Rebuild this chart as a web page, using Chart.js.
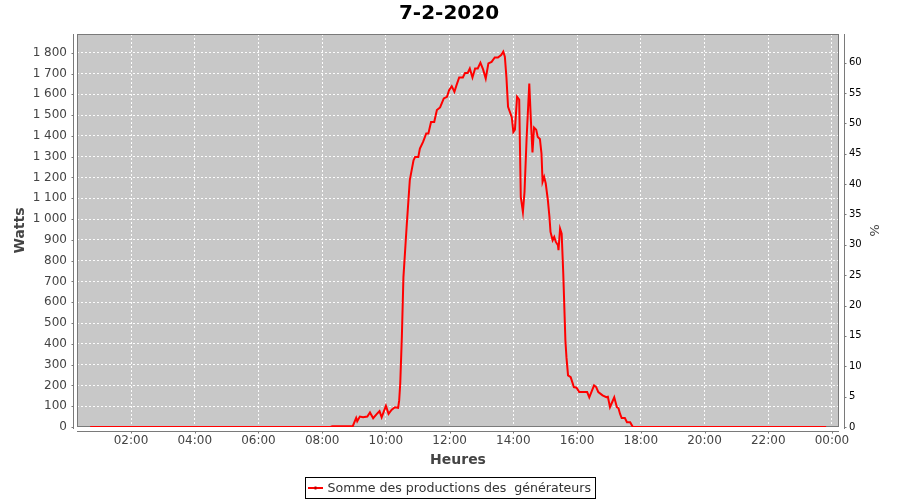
<!DOCTYPE html>
<html>
<head>
<meta charset="utf-8">
<script src="https://cdn.jsdelivr.net/npm/chart.js@4.4.1/dist/chart.umd.min.js"></script>
<style>
    html, body { margin: 0; padding: 0; background: #fff; }
</style>
</head>
<body>
<canvas id="chart" width="900" height="500"></canvas>
<script>
const chartTitle = '7-2-2020';
const seriesLabel = 'Somme des productions des  générateurs';

// time of day (HH:MM) and production in watts
const times = [
    '00:43', '08:16', '08:19', '08:55', '08:57', '09:04', '09:06', '09:11', '09:17', '09:25',
    '09:30', '09:36', '09:43', '09:48', '09:52', '10:00', '10:05', '10:11', '10:17', '10:23',
    '10:25', '10:27', '10:30', '10:33', '10:39', '10:45', '10:52', '10:55', '11:01', '11:04',
    '11:10', '11:16', '11:20', '11:25', '11:31', '11:36', '11:42', '11:49', '11:55', '11:59',
    '12:04', '12:09', '12:13', '12:18', '12:25', '12:29', '12:34', '12:38', '12:43', '12:48',
    '12:53', '12:58', '13:03', '13:08', '13:13', '13:19', '13:25', '13:31', '13:37', '13:41',
    '13:44', '13:47', '13:50', '13:57', '14:00', '14:03', '14:07', '14:11', '14:14', '14:18',
    '14:21', '14:25', '14:30', '14:33', '14:36', '14:39', '14:43', '14:46', '14:50', '14:53',
    '14:55', '14:58', '15:01', '15:05', '15:08', '15:10', '15:14', '15:17', '15:20', '15:24',
    '15:25', '15:28', '15:31', '15:34', '15:36', '15:38', '15:40', '15:43', '15:48', '15:54',
    '15:59', '16:04', '16:12', '16:19', '16:23', '16:32', '16:36', '16:40', '16:48', '16:55',
    '16:58', '17:02', '17:06', '17:10', '17:15', '17:18', '17:21', '17:24', '17:30', '17:34',
    '17:40', '17:45', '23:49'
];
const watts = [
    0, 0, 4, 4, 0, 44, 28, 50, 47, 50,
    70, 42, 63, 76, 47, 102, 63, 83, 95, 92,
    128, 210, 432, 721, 962, 1187, 1283, 1299, 1299, 1339,
    1371, 1412, 1412, 1467, 1467, 1524, 1537, 1580, 1588, 1620,
    1639, 1612, 1644, 1681, 1681, 1703, 1703, 1724, 1681, 1724,
    1724, 1752, 1720, 1676, 1749, 1756, 1777, 1777, 1789, 1805,
    1781, 1680, 1540, 1490, 1419, 1430, 1588, 1575, 1106, 1034,
    1130, 1390, 1652, 1476, 1320, 1440, 1430, 1395, 1385, 1315,
    1179, 1203, 1171, 1091, 1010, 938, 898, 914, 890, 874,
    850, 954, 930, 738, 577, 416, 336, 248, 240, 192,
    189, 168, 168, 168, 143, 200, 192, 168, 152, 143,
    145, 95, 119, 143, 95, 90, 63, 43, 43, 23,
    23, 0, 0
];

const hourTicks = [2, 4, 6, 8, 10, 12, 14, 16, 18, 20, 22, 24];
const hourLabels = ['02:00', '04:00', '06:00', '08:00', '10:00', '12:00', '14:00', '16:00', '18:00', '20:00', '22:00', '00:00'];
const wattTicks = [0, 100, 200, 300, 400, 500, 600, 700, 800, 900, 1000, 1100, 1200, 1300, 1400, 1500, 1600, 1700, 1800];
const pctTicks = [0, 5, 10, 15, 20, 25, 30, 35, 40, 45, 50, 55, 60];

function toHours(t) {
    const parts = t.split(':');
    return parseInt(parts[0]) + parseInt(parts[1]) / 60;
}

function formatWatts(v) {
    if (v < 1000) return String(v);
    return Math.floor(v / 1000) + ' ' + String(v % 1000).padStart(3, '0');
}

const points = times.map((t, i) => ({ x: toHours(t), y: watts[i] }));

const AREA = { left: 77, right: 839, top: 34, bottom: 427 };
const gridLine = { color: 'rgba(255,255,255,0.95)', drawTicks: false, lineWidth: 1 };
const dashedBorder = { display: false, dash: [2, 2] };

// grey plot background, frame and offset axis lines with small tick marks
const plotFrame = {
    id: 'plotFrame',
    beforeDraw(chart) {
        const { ctx, chartArea: a } = chart;
        ctx.save();
        ctx.fillStyle = '#c8c8c8';
        ctx.fillRect(a.left, a.top, a.right - a.left, a.bottom - a.top);
        ctx.restore();
    },
    beforeDatasetsDraw(chart) {
        const { ctx, chartArea: a, scales } = chart;
        ctx.save();
        ctx.strokeStyle = '#7a7a7a';
        ctx.lineWidth = 1;
        ctx.setLineDash([]);
        ctx.strokeRect(a.left + 0.5, a.top + 0.5, a.right - a.left - 1, a.bottom - a.top - 1);

        const lx = a.left - 3.5, rx = a.right + 5.5, by = a.bottom + 4.5;
        ctx.beginPath();
        ctx.moveTo(lx, a.top); ctx.lineTo(lx, a.bottom + 2);
        ctx.moveTo(rx, a.top); ctx.lineTo(rx, a.bottom + 2);
        ctx.moveTo(a.left, by); ctx.lineTo(a.right, by);
        scales.y.ticks.forEach(t => {
            const p = Math.round(scales.y.getPixelForValue(t.value)) + 0.5;
            ctx.moveTo(lx - 2, p); ctx.lineTo(lx, p);
        });
        scales.y1.ticks.forEach(t => {
            const p = Math.round(scales.y1.getPixelForValue(t.value)) + 0.5;
            ctx.moveTo(rx, p); ctx.lineTo(rx + 2, p);
        });
        scales.x.ticks.forEach(t => {
            const p = Math.round(scales.x.getPixelForValue(t.value)) + 0.5;
            ctx.moveTo(p, by); ctx.lineTo(p, by + 2);
        });
        ctx.stroke();
        ctx.restore();
    }
};

// boxed legend under the axis title
const legendBox = {
    id: 'legendBox',
    afterDraw(chart) {
        const ctx = chart.ctx;
        const ds = chart.data.datasets[0];
        ctx.save();
        ctx.font = '12.6px "DejaVu Sans"';
        const tw = ctx.measureText(ds.label).width;
        const w = Math.round(2.5 + 15 + 4.5 + tw + 4.5);
        const x0 = Math.round(chart.width / 2 - w / 2) + 0.5;
        const y0 = chart.height - 22.5;
        const h = 21;
        ctx.strokeStyle = '#000';
        ctx.lineWidth = 1;
        ctx.strokeRect(x0, y0, w, h);

        const cy = y0 + h / 2;
        ctx.strokeStyle = ds.borderColor;
        ctx.lineWidth = 2;
        ctx.beginPath();
        ctx.moveTo(x0 + 2.5, cy);
        ctx.lineTo(x0 + 17.5, cy);
        ctx.stroke();
        ctx.fillStyle = '#b00000';
        ctx.fillRect(x0 + 9, cy - 1.5, 2, 3);

        ctx.fillStyle = '#333';
        ctx.textBaseline = 'middle';
        ctx.textAlign = 'left';
        ctx.fillText(ds.label, x0 + 22, cy + 0.5);
        ctx.restore();
    }
};

Chart.defaults.font.family = '"DejaVu Sans", sans-serif';

const ctx = document.getElementById('chart').getContext('2d');
const chart = new Chart(ctx, {
    type: 'line',
    data: {
        datasets: [{
            label: seriesLabel,
            data: points,
            borderColor: '#ff0000',
            backgroundColor: '#ff0000',
            borderWidth: 2,
            pointRadius: 0,
            tension: 0,
            yAxisID: 'y'
        }]
    },
    options: {
        responsive: false,
        animation: false,
        layout: { padding: { left: 8, right: 10, top: 0, bottom: 26 } },
        plugins: {
            legend: { display: false },
            tooltip: { enabled: false },
            title: {
                display: true,
                text: chartTitle,
                color: '#000',
                font: { size: 20, weight: 'bold' },
                padding: { top: 2, bottom: 8 }
            }
        },
        scales: {
            x: {
                type: 'linear',
                min: 0.3045,
                max: 24.221,
                grid: gridLine,
                border: dashedBorder,
                afterBuildTicks: scale => { scale.ticks = hourTicks.map(v => ({ value: v })); },
                afterFit: scale => { scale.height = 47; },
                ticks: {
                    color: '#444',
                    font: { size: 12 },
                    padding: 7,
                    maxRotation: 0,
                    autoSkip: false,
                    callback: (v) => hourLabels[hourTicks.indexOf(v)]
                },
                title: {
                    display: true,
                    text: 'Heures',
                    color: '#444',
                    font: { size: 14, weight: 'bold' },
                    padding: { top: 0, bottom: 5 }
                }
            },
            y: {
                type: 'linear',
                position: 'left',
                min: 0,
                max: 1890,
                grid: gridLine,
                border: dashedBorder,
                afterBuildTicks: scale => { scale.ticks = wattTicks.map(v => ({ value: v })); },
                afterFit: scale => { scale.width = AREA.left - 8; },
                ticks: {
                    color: '#444',
                    font: { size: 12 },
                    padding: 10,
                    autoSkip: false,
                    callback: (v) => formatWatts(v)
                },
                title: {
                    display: true,
                    text: 'Watts',
                    color: '#444',
                    font: { size: 14, weight: 'bold' },
                    padding: { top: 4, bottom: 0 }
                }
            },
            y1: {
                type: 'linear',
                position: 'right',
                min: 0,
                max: 64.71,
                grid: { drawOnChartArea: false, drawTicks: false },
                border: { display: false },
                afterBuildTicks: scale => { scale.ticks = pctTicks.map(v => ({ value: v })); },
                afterFit: scale => { scale.width = 900 - 10 - AREA.right; },
                ticks: {
                    color: '#000',
                    font: { size: 10 },
                    padding: 10,
                    autoSkip: false
                },
                title: {
                    display: true,
                    text: '%',
                    color: '#444',
                    font: { size: 13 },
                    padding: { top: 9, bottom: 0 }
                }
            }
        }
    },
    plugins: [plotFrame, legendBox]
});
</script>
</body>
</html>
